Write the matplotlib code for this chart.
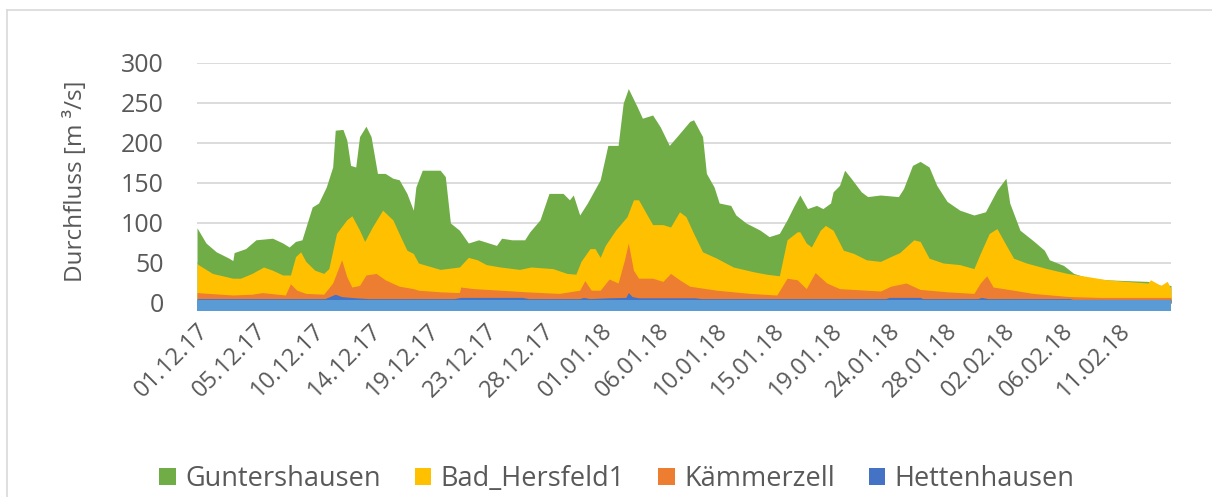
import matplotlib
matplotlib.use("Agg")
import matplotlib.pyplot as plt
import matplotlib.dates as mdates
from matplotlib.patches import Patch
from matplotlib.lines import Line2D
import pandas as pd

plt.rcParams['font.family'] = ['Open Sans', 'DejaVu Sans']

# Readings (days after 01.12.2017 00:00, discharge in m3/s)
start = pd.Timestamp('2017-12-01')

gunt_days = [0, 0.7, 1.5, 2.5, 2.8, 2.9, 3.8, 4.6, 5.9, 6.7, 7.2, 7.7, 8.2, 9.0, 9.5,
             10.1, 10.6, 10.8, 11.4, 11.7, 12.0, 12.4, 12.7, 13.2, 13.6, 14.1, 14.7,
             15.3, 15.8, 16.4, 16.9, 17.1, 17.6, 18.4, 19.0, 19.4, 19.8, 20.5, 21.2,
             22.0, 23.4, 23.8, 24.6, 25.6, 26.0, 26.8, 27.5, 28.0, 28.6, 29.1, 29.4,
             29.9, 30.5, 31.5, 32.1, 32.9, 33.3, 33.7, 34.4, 34.8, 35.6, 36.2, 36.9,
             37.6, 38.5, 38.8, 39.5, 39.8, 40.4, 40.8, 41.7, 42.1, 42.9, 44.0, 44.7,
             45.5, 46.1, 46.6, 47.1, 47.7, 48.4, 48.9, 49.5, 49.7, 50.2, 50.6, 51.1,
             51.9, 52.4, 53.4, 54.8, 55.2, 55.9, 56.5, 57.2, 57.8, 58.6, 59.6, 60.7,
             61.6, 62.5, 63.2, 63.5, 64.3, 65.4, 66.2, 66.6, 67.7, 68.5, 69.7, 71.1,
             72.6, 74.3, 75.3, 76.1]
gunt_flow = [94, 75, 64, 56, 53, 63, 68, 79, 81, 75, 70, 77, 79, 120, 125,
             145, 170, 216, 217, 204, 172, 170, 208, 221, 208, 162, 162,
             156, 154, 137, 116, 145, 166, 166, 166, 158, 100, 91, 75,
             79, 72, 81, 79, 79, 89, 104, 137, 137, 137, 129, 135,
             110, 125, 154, 197, 197, 250, 268, 245, 231, 235, 220, 197,
             210, 227, 229, 208, 162, 145, 125, 122, 110, 100, 91, 83,
             87, 104, 120, 135, 118, 122, 118, 125, 139, 147, 166, 156,
             139, 133, 135, 133, 143, 172, 177, 170, 147, 127, 116, 110,
             114, 141, 156, 125, 91, 77, 66, 54, 47, 37, 31, 29,
             28, 27, 22, 22]

bad_days = [0, 1.2, 2.8, 3.4, 4.3, 5.2, 5.9, 6.7, 7.3, 7.7, 8.1, 8.5, 9.2, 9.9,
            10.3, 10.9, 11.7, 12.1, 12.7, 13.1, 13.7, 14.5, 15.3, 15.9, 16.4, 16.9,
            17.3, 19.0, 20.5, 21.2, 21.9, 22.6, 23.7, 25.2, 26.1, 27.8, 28.9, 29.6,
            30.0, 30.7, 31.1, 31.5, 31.9, 32.7, 33.6, 34.1, 34.5, 35.1, 35.6, 36.4,
            37.0, 37.7, 38.2, 38.8, 39.5, 40.6, 41.9, 43.5, 44.5, 45.5, 46.1, 46.9,
            47.1, 47.6, 48.0, 48.7, 49.1, 49.7, 50.5, 51.3, 52.3, 53.4, 54.2, 54.9,
            56.0, 56.5, 57.2, 58.3, 59.6, 60.7, 61.2, 61.9, 62.5, 63.3, 63.8, 64.8,
            66.4, 68.0, 69.6, 71.1, 72.6, 74.3, 74.5, 75.3, 75.8, 76.1]
bad_flow = [49, 37, 31, 31, 37, 45, 41, 35, 35, 58, 64, 52, 41, 37,
            43, 87, 104, 109, 91, 77, 95, 116, 104, 83, 66, 62,
            50, 42, 45, 57, 54, 48, 45, 42, 45, 43, 37, 36,
            52, 68, 68, 57, 72, 91, 108, 129, 129, 112, 98, 98,
            95, 114, 108, 87, 64, 56, 45, 39, 36, 34, 79, 89,
            89, 75, 70, 91, 97, 91, 66, 62, 54, 52, 58, 63,
            79, 77, 56, 50, 48, 43, 62, 87, 93, 70, 56, 50,
            43, 37, 33, 29, 27, 25, 29, 22, 27, 18]

kaem_days = [0, 2.8, 4.3, 5.1, 6.9, 7.3, 7.8, 8.5, 9.9, 10.6, 11.3, 11.7, 12.1,
             12.7, 13.2, 14.0, 14.7, 15.8, 16.9, 17.3, 19.0, 20.5, 20.6, 21.6, 23.7,
             25.7, 28.3, 29.9, 30.3, 30.8, 31.5, 32.2, 32.9, 33.4, 33.7, 34.1, 34.5,
             35.6, 36.4, 37.0, 37.7, 38.5, 40.6, 43.2, 45.3, 46.1, 46.9, 47.6, 48.3,
             49.2, 50.2, 52.3, 53.4, 54.2, 55.4, 56.5, 58.6, 60.7, 61.2, 61.7, 62.2,
             63.8, 65.3, 68.2, 70.6, 76.1]
kaem_flow = [13, 10, 11, 13, 10, 24, 16, 12, 11, 25, 54, 33, 20,
             22, 35, 37, 29, 21, 18, 16, 14, 13, 20, 18, 16,
             14, 12, 16, 28, 16, 16, 30, 25, 54, 75, 41, 31,
             31, 27, 37, 29, 21, 16, 12, 10, 31, 29, 18, 38,
             25, 18, 16, 15, 21, 25, 17, 14, 12, 25, 34, 20,
             16, 12, 8, 7, 7]

hett_days = [0, 10.0, 10.8, 11.3, 12.4, 13.4, 20.1, 20.6, 25.4, 25.9, 29.9, 30.2,
             30.7, 32.1, 33.5, 33.7, 34.0, 34.5, 38.9, 39.4, 53.8, 54.1, 56.5, 56.7,
             61.0, 61.3, 61.8, 68.2, 68.4, 76.1]
hett_flow = [5.5, 5.5, 11, 8, 6.5, 5.5, 5.5, 7, 7, 5.5, 5.5, 7,
             5.5, 6.5, 7, 13, 8, 6.5, 6.5, 5.5, 5.5, 7, 7, 5.5,
             5.5, 7, 5.5, 5.5, 4.5, 4.5]

# light blue strip under the axis (extra series, not in legend)
strip_days = [0, 76.1]
strip_flow = [3.5, 3.5]

names = ['Guntershausen', 'Bad_Hersfeld1', 'Kämmerzell', 'Hettenhausen']
colors = ['#70AD47', '#FFC000', '#ED7D31', '#4472C4']

y_min, y_max = -10, 300
tick_every = 4.5  # days between date labels
txt = '#595959'


def to_dates(days):
    return start + pd.to_timedelta(days, unit='D')


fig = plt.figure(figsize=(12.12, 4.97), dpi=100)
ax = fig.add_axes([197 / 1212, 1 - 311 / 497, 974 / 1212, 248 / 497])

series = [(gunt_days, gunt_flow), (bad_days, bad_flow),
          (kaem_days, kaem_flow), (hett_days, hett_flow)]
for (d, q), c in zip(series, colors):
    ax.fill_between(to_dates(d), 0, q, color=c, linewidth=0)
ax.fill_between(to_dates(strip_days), y_min, strip_flow, color='#5B9BD5', linewidth=0)

ax.set_ylim(y_min, y_max)
ax.set_xlim(to_dates([0])[0], to_dates([strip_days[-1]])[0])
ax.set_yticks(range(0, 301, 50))
ax.yaxis.grid(True, color='#D9D9D9', linewidth=1.3)
ax.set_axisbelow(True)
for s in ax.spines.values():
    s.set_visible(False)

n_ticks = int(strip_days[-1] // tick_every) + 1
ax.set_xticks(to_dates([k * tick_every for k in range(n_ticks)]))
ax.xaxis.set_major_formatter(mdates.DateFormatter('%d.%m.%y'))
ax.tick_params(axis='both', length=0, labelsize=17, labelcolor=txt)
ax.tick_params(axis='y', labelsize=18, pad=24)
ax.tick_params(axis='x', pad=6)
for lab in ax.get_xticklabels():
    lab.set_rotation(45)
    lab.set_ha('right')
    lab.set_va('top')
    lab.set_rotation_mode('anchor')

fig.text(76 / 1212, 1 - 181 / 497, 'Durchfluss [m ³/s]', rotation=90,
         ha='center', va='center', fontsize=17.5, color=txt)

handles = [Patch(facecolor=c, edgecolor='none') for c in colors]
fig.legend(handles, names, loc='center', bbox_to_anchor=(617 / 1212, 1 - 479 / 497),
           ncol=4, frameon=False, fontsize=19.5, labelcolor=txt,
           handlelength=0.6, handleheight=0.6, handletextpad=0.35, columnspacing=1.25)

# chart frame (only top and left visible in the screenshot)
fig.add_artist(Line2D([7 / 1212, 7 / 1212], [0, 1 - 10 / 497], color='#D9D9D9', linewidth=1.2))
fig.add_artist(Line2D([7 / 1212, 1], [1 - 10 / 497, 1 - 10 / 497], color='#D9D9D9', linewidth=1.2))

fig.savefig('out.png', dpi=100)
